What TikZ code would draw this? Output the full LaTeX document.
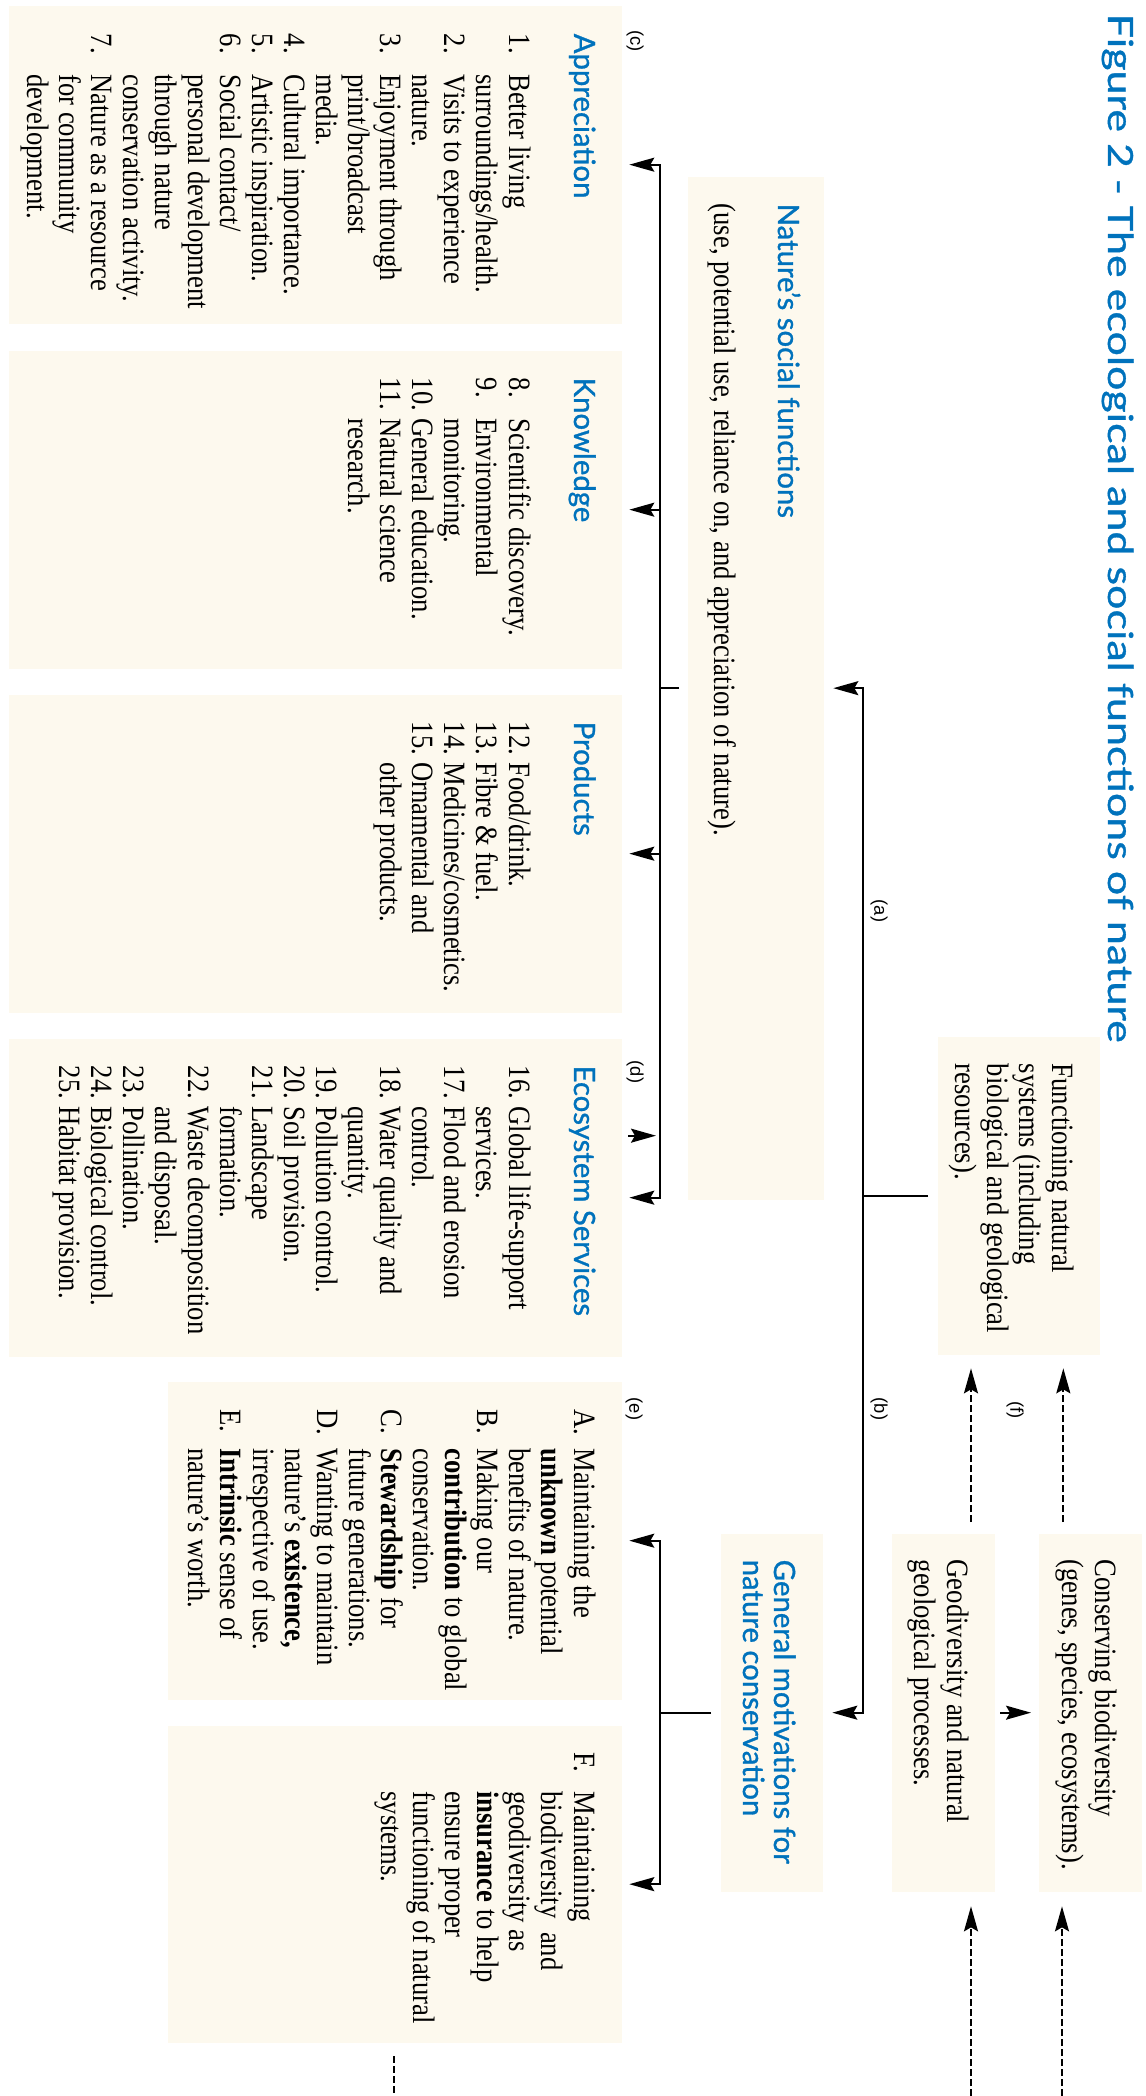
\documentclass[tikz,border=0pt]{standalone}
\usepackage{fontspec}
\setmainfont{Liberation Serif}[FakeStretch=0.86]
\newfontfamily\headfont{Lato}[FakeBold=1]
\newfontfamily\titlefont{Lato}[FakeBold=1, FakeStretch=1.24]
\newfontfamily\tagfont{Liberation Sans}
\usetikzlibrary{arrows.meta,calc}

\definecolor{natblue}{RGB}{0,114,188}
\definecolor{cream}{RGB}{253,249,238}

\newenvironment{itemlist}[1][12.2pt]{\begin{tabular}[t]{@{}p{#1}@{}l@{}}}{\end{tabular}}
\newcommand{\textlines}[1]{\begin{tabular}[t]{@{}l@{}}#1\end{tabular}}

\tikzset{
  fbox/.style={fill=cream, inner sep=0pt, anchor=south west},
  figtitle/.style={font=\titlefont\fontsize{10.4}{12}\selectfont, text=natblue, inner sep=0pt, anchor=base west},
  head/.style={font=\headfont\fontsize{8.8}{9.3}\selectfont, text=natblue, inner sep=0pt, anchor=base west},
  body/.style={font=\fontsize{9.3}{9.63}\selectfont, inner sep=0pt, anchor=base west},
  tag/.style={font=\tagfont\fontsize{5.5}{6}\selectfont, inner sep=0pt},
  conn/.style={line width=0.55pt},
  arr/.style={conn, -{Stealth[length=7.5pt, width=4.2pt, inset=1.2pt]}, shorten >=2.1pt},
  darr/.style={arr, dash pattern=on 2pt off 1pt},
  dline/.style={conn, dash pattern=on 2pt off 1pt}
}

\begin{document}
\begin{tikzpicture}[x=0.3pt, y=0.3pt, rotate=-90, transform shape]
  \useasboundingbox (0,0) rectangle (2096,1146);

  % Boxes (laid out in landscape, the picture is turned)
  \node[fbox, minimum width=95.4pt, minimum height=183.9pt] (appr) at (5,8) {};
  \node[fbox, minimum width=95.4pt, minimum height=183.9pt] (know) at (350,8) {};
  \node[fbox, minimum width=95.4pt, minimum height=183.9pt] (prod) at (694,8) {};
  \node[fbox, minimum width=95.4pt, minimum height=183.9pt] (ecos) at (1038,8) {};
  \node[fbox, minimum width=95.4pt, minimum height=136.2pt] (motA) at (1381,167) {};
  \node[fbox, minimum width=95.1pt, minimum height=136.2pt] (motF) at (1725,167) {};
  \node[fbox, minimum width=306.9pt, minimum height=40.8pt] (nat) at (176,687) {};
  \node[fbox, minimum width=95.4pt, minimum height=48.6pt] (func) at (1036,937) {};
  \node[fbox, minimum width=107.4pt, minimum height=30.6pt] (motiv) at (1533,720) {};
  \node[fbox, minimum width=107.4pt, minimum height=30.9pt] (geo) at (1533,891) {};
  \node[fbox, minimum width=107.4pt, minimum height=30.9pt] (cons) at (1533,1038) {};

  % Title and headings
  \node[figtitle] (ttl) at (13,1108) {Figure 2 - The ecological and social functions of nature};
  \node[head] (natH) at (203,778) {Nature’s social functions};
  \node[body] (natL) at (203,714) {(use, potential use, reliance on, and appreciation of nature).};
  \node[body] (funcL) at (1063,1052) {\textlines{Functioning natural\\systems (including\\biological and geological\\resources).}};
  \node[head] (motivH) at (1559,774) {\textlines{General motivations for\\nature conservation}};
  \node[body] (geoL) at (1559,947) {\textlines{Geodiversity and natural\\geological processes.}};
  \node[body] (consL) at (1559,1095) {\textlines{Conserving biodiversity\\(genes, species, ecosystems).}};

  % Social functions
  \node[head] (apprH) at (33,574) {Appreciation};
  \node[body] (apprL) at (33,509) {\begin{itemlist}
    1. & Better living\\ & surroundings/health.\\
    2. & Visits to experience\\ & nature.\\
    3. & Enjoyment through\\ & print/broadcast\\ & media.\\
    4. & Cultural importance.\\
    5. & Artistic inspiration.\\
    6. & Social contact/\\ & personal development\\ & through nature\\ & conservation activity.\\
    7. & Nature as a resource\\ & for community\\ & development.
  \end{itemlist}};
  \node[head] (knowH) at (377,574) {Knowledge};
  \node[body] (knowL) at (377,509) {\begin{itemlist}
    8. & Scientific discovery.\\
    9. & Environmental\\ & monitoring.\\
    10. & General education.\\
    11. & Natural science\\ & research.
  \end{itemlist}};
  \node[head] (prodH) at (721,574) {Products};
  \node[body] (prodL) at (721,509) {\begin{itemlist}
    12. & Food/drink.\\
    13. & Fibre \& fuel.\\
    14. & Medicines/cosmetics.\\
    15. & Ornamental and\\ & other products.
  \end{itemlist}};
  \node[head] (ecosH) at (1065,574) {Ecosystem Services};
  \node[body] (ecosL) at (1065,509) {\begin{itemlist}
    16. & Global life-support\\ & services.\\
    17. & Flood and erosion\\ & control.\\
    18. & Water quality and\\ & quantity.\\
    19. & Pollution control.\\
    20. & Soil provision.\\
    21. & Landscape\\ & formation.\\
    22. & Waste decomposition\\ & and disposal.\\
    23. & Pollination.\\
    24. & Biological control.\\
    25. & Habitat provision.
  \end{itemlist}};

  % Motivations
  \node[body] (motAL) at (1409,574) {\begin{itemlist}[11.6pt]
    A. & Maintaining the\\ & \textbf{unknown} potential\\ & benefits of nature.\\
    B. & Making our\\ & \textbf{contribution} to global\\ & conservation.\\
    C. & \textbf{Stewardship} for\\ & future generations.\\
    D. & Wanting to maintain\\ & nature’s \textbf{existence,}\\ & irrespective of use.\\
    E. & \textbf{Intrinsic} sense of\\ & nature’s worth.
  \end{itemlist}};
  \node[body] (motFL) at (1752,574) {\begin{itemlist}[11.6pt]
    F. & Maintaining\\ & biodiversity\ \ and\\ & geodiversity as\\ & \textbf{insurance} to help\\
       & ensure proper\\ & functioning of natural\\ & systems.
  \end{itemlist}};

  % Edge labels
  \node[tag] (tc) at (41,635) {(c)};
  \node[tag] (td) at (1072,635) {(d)};
  \node[tag] (te) at (1409,634) {(e)};
  \node[tag] (ta) at (911,879) {(a)};
  \node[tag] (tb) at (1409,879) {(b)};
  \node[tag] (tf) at (1410,1015) {(f)};

  % Edges from the social functions box
  \coordinate (busS) at ($(nat.south)+(0,-27)$);
  \draw[conn] ($(nat.south)+(0,-8)$) -- (busS);
  \draw[arr] (busS) -| (appr.north);
  \draw[arr] (busS) -| (ecos.north);
  \draw[arr] (busS -| know.north) -- (know.north);
  \draw[arr] (busS -| prod.north) -- (prod.north);
  \coordinate (dIn) at ($(busS -| ecos.north)+(-62,0)$);
  \draw[arr, shorten <=1.8pt, shorten >=1.2pt] ($(ecos.north)+(-62,0)$) -- (dIn);

  % Edges from functioning natural systems
  \coordinate (busE) at ($(func.south)+(0,-74)$);
  \draw[conn] ($(func.south)+(0,-9)$) -- (busE);
  \draw[arr, shorten >=2.7pt] (busE) -| (nat.north);
  \draw[arr, shorten >=2.7pt] (busE) -| (motiv.north);

  % Edges from general motivations
  \coordinate (busM) at ($(motiv.south)+(0,-60)$);
  \draw[conn] ($(motiv.south)+(0,-9)$) -- (busM);
  \draw[arr] (busM) -| (motA.north);
  \draw[arr] (busM) -| (motF.north);
  \draw[arr, shorten <=1.5pt] (geo.north) -- (cons.south);

  % Dashed edges
  \coordinate (fLow) at ($(func.south east)+(0,34)$);
  \coordinate (fHigh) at ($(func.north east)+(0,-37)$);
  \draw[darr, shorten <=3.3pt, shorten >=3.9pt] (geo.west |- fLow) -- (fLow);
  \draw[darr, shorten <=3.3pt, shorten >=3.9pt] (cons.west |- fHigh) -- (fHigh);
  \coordinate (outLow) at (2096,971);
  \coordinate (outHigh) at (2096,1062);
  \coordinate (outF) at (2096,394);
  \draw[darr, shorten >=4.2pt] (outLow) -- (geo.east |- outLow);
  \draw[darr, shorten >=4.2pt] (outHigh) -- (cons.east |- outHigh);
  \draw[dline, shorten <=3.9pt] (motF.east |- outF) -- (outF);

\end{tikzpicture}
\end{document}
